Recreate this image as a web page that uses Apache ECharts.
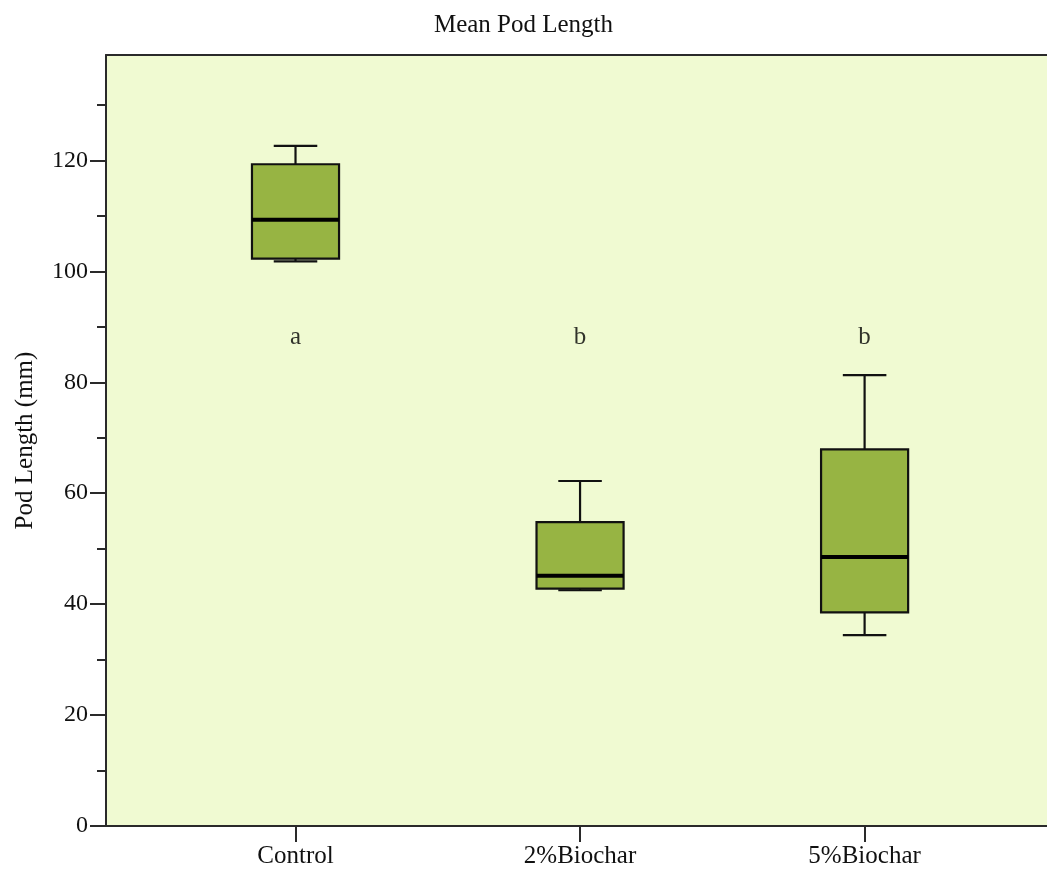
<!DOCTYPE html>
<html>
<head>
<meta charset="utf-8">
<script src="https://cdn.jsdelivr.net/npm/echarts@6/dist/echarts.min.js"></script>
<style>
html,body{margin:0;padding:0;background:#fff;}
#c{width:1047px;height:873px;}
</style>
</head>
<body>
<div id="c"></div>
<script>
// ---- data ----
const categories = ['Control', '2%Biochar', '5%Biochar'];
const whiskerMin = [101.8, 42.5, 34.4];
const q1 = [102.3, 42.8, 38.5];
const median = [109.3, 45.1, 48.5];
const q3 = [119.3, 54.8, 67.9];
const whiskerMax = [122.6, 62.2, 81.3];
const groupLetters = ['a', 'b', 'b'];
const letterLevel = 88;
const yMajorTicks = [0, 20, 40, 60, 80, 100, 120];
const yMinorTicks = [10, 30, 50, 70, 90, 110, 130];
const title = 'Mean Pod Length';
const yName = 'Pod Length (mm)';

// ---- build ----
const boxData = categories.map((c, i) => [i, whiskerMin[i], q1[i], median[i], q3[i], whiskerMax[i]]);
const letterData = categories.map((c, i) => [i, letterLevel, groupLetters[i]]);

const FONT = "'Liberation Serif', 'DejaVu Serif', serif";
const AXC = '#2a2a2a';

function renderBox(params, api) {
  const x = api.value(0);
  const pMin = api.coord([x, api.value(1)]);
  const pQ1 = api.coord([x, api.value(2)]);
  const pMed = api.coord([x, api.value(3)]);
  const pQ3 = api.coord([x, api.value(4)]);
  const pMax = api.coord([x, api.value(5)]);
  const band = api.size([1, 0])[0];
  const bw = band * 0.306;
  const cw = bw / 2;
  const cx = pMed[0];
  const lineStyle = { stroke: '#111', lineWidth: 2.2, fill: null };
  return {
    type: 'group',
    children: [
      { type: 'line', shape: { x1: cx, y1: pQ3[1], x2: cx, y2: pMax[1] }, style: lineStyle },
      { type: 'line', shape: { x1: cx - cw / 2, y1: pMax[1], x2: cx + cw / 2, y2: pMax[1] }, style: lineStyle },
      { type: 'line', shape: { x1: cx, y1: pQ1[1], x2: cx, y2: pMin[1] }, style: lineStyle },
      { type: 'line', shape: { x1: cx - cw / 2, y1: pMin[1], x2: cx + cw / 2, y2: pMin[1] }, style: lineStyle },
      { type: 'rect', shape: { x: cx - bw / 2, y: pQ3[1], width: bw, height: pQ1[1] - pQ3[1] },
        style: { fill: '#97b443', stroke: '#111', lineWidth: 2.2 } },
      { type: 'line', shape: { x1: cx - bw / 2, y1: pMed[1], x2: cx + bw / 2, y2: pMed[1] },
        style: { stroke: '#000', lineWidth: 4 } }
    ]
  };
}

const chart = echarts.init(document.getElementById('c'), null, { renderer: 'canvas' });
chart.setOption({
  backgroundColor: '#ffffff',
  animation: false,
  title: {
    text: title, left: 'center', top: 8,
    textStyle: { fontFamily: FONT, fontSize: 25, fontWeight: 'normal', color: '#111' }
  },
  grid: {
    left: 106, right: 0, top: 55, bottom: 47,
    show: true, backgroundColor: '#f0fad2', borderWidth: 0
  },
  xAxis: [
    {
      type: 'value', position: 'bottom', min: -0.666, max: 2.641,
      splitLine: { show: false },
      axisLine: { show: true, onZero: false, lineStyle: { color: AXC, width: 2 } },
      axisTick: { show: true, customValues: [0, 1, 2], length: 16, lineStyle: { color: AXC, width: 2 } },
      axisLabel: {
        customValues: [0, 1, 2], margin: 18,
        formatter: v => categories[Math.round(v)],
        fontFamily: FONT, fontSize: 25, color: '#111'
      }
    },
    {
      type: 'value', position: 'top', min: -0.666, max: 2.641,
      splitLine: { show: false },
      axisLine: { show: true, onZero: false, lineStyle: { color: AXC, width: 2 } },
      axisTick: { show: false }, axisLabel: { show: false }
    }
  ],
  yAxis: [
    {
      type: 'value', min: 0, max: 139, position: 'left',
      name: yName, nameLocation: 'middle', nameGap: 68, nameRotate: 90,
      nameTextStyle: { fontFamily: FONT, fontSize: 25, color: '#111' },
      splitLine: { show: false },
      axisLine: { show: true, onZero: false, lineStyle: { color: AXC, width: 2 } },
      axisTick: { show: true, customValues: yMajorTicks, length: 16, lineStyle: { color: AXC, width: 2 } },
      axisLabel: { customValues: yMajorTicks, margin: 18, fontFamily: FONT, fontSize: 24, color: '#111' }
    },
    {
      type: 'value', min: 0, max: 139, position: 'left',
      splitLine: { show: false },
      axisLine: { show: false, onZero: false },
      axisTick: { show: true, customValues: yMinorTicks, length: 9, lineStyle: { color: AXC, width: 2 } },
      axisLabel: { show: false }
    }
  ],
  series: [
    {
      type: 'custom', xAxisIndex: 0, yAxisIndex: 0,
      renderItem: renderBox,
      encode: { x: 0, y: [1, 2, 3, 4, 5] },
      data: boxData, z: 3
    },
    {
      type: 'scatter', xAxisIndex: 0, yAxisIndex: 0,
      symbolSize: 0,
      data: letterData,
      label: {
        show: true, position: 'inside',
        formatter: p => p.data[2],
        fontFamily: FONT, fontSize: 25, color: '#000',
        textBorderWidth: 0, textBorderColor: 'transparent'
      },
      z: 4
    }
  ]
});
</script>
</body>
</html>
